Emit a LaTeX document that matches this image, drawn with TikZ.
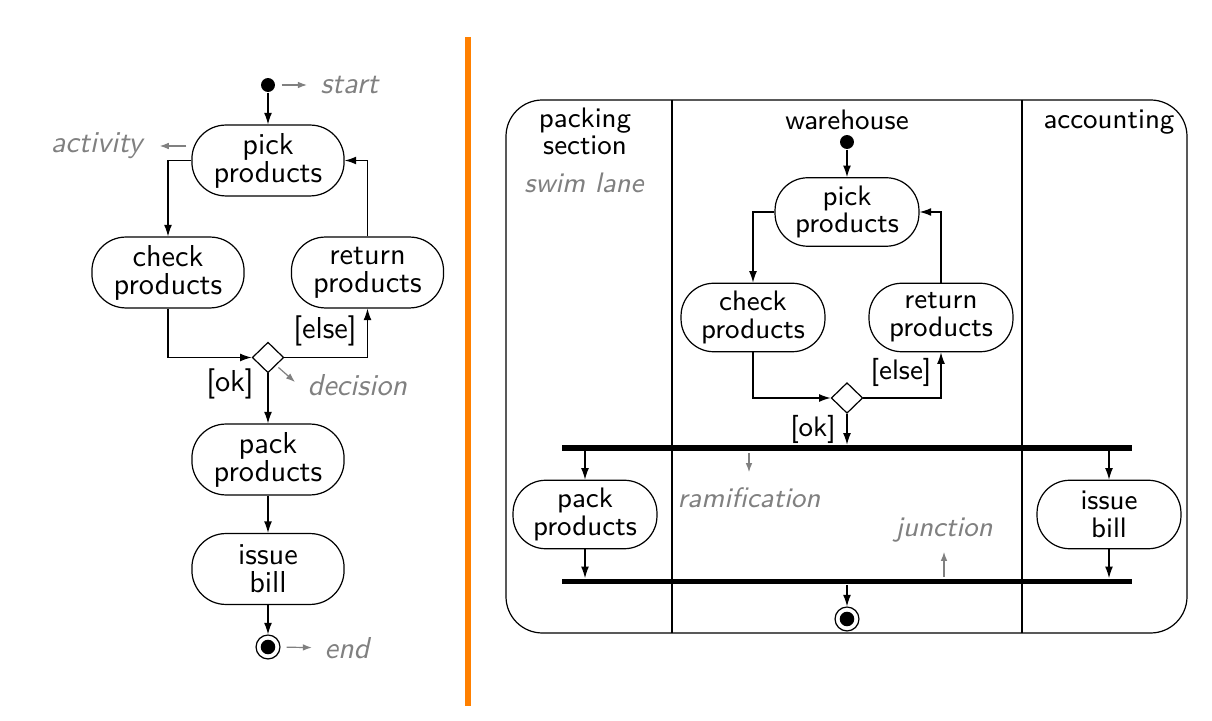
\documentclass[tikz,border=0pt]{standalone}
\usetikzlibrary{arrows.meta,shapes.geometric}
\definecolor{divider}{RGB}{255,128,0}
\begin{document}
\begin{tikzpicture}[x=0.33pt,y=-0.33pt,
	act/.style={draw,thin,rounded corners=11.2pt,minimum width=50.2pt,minimum height=23.4pt,inner sep=0pt,align=center,font=\sffamily\fontsize{10}{9.2}\selectfont},
	lact/.style={act,rounded corners=10.8pt,minimum width=47.5pt,minimum height=22.6pt,font=\sffamily\fontsize{9.3}{9.2}\selectfont},
	decide/.style={draw,thin,diamond,inner sep=0pt,minimum width=10.4pt,minimum height=10.1pt},
	initial/.style={circle,fill,inner sep=0pt,minimum size=4.6pt},
	final/.style={circle,draw,thin,inner sep=0pt,minimum size=7.9pt,path picture={\fill (path picture bounding box.center) circle (2.4pt);}},
	bar/.style={fill,inner sep=0pt,minimum width=188.1pt,minimum height=1.8pt},
	flow/.style={thin,-{Latex[length=3.8pt,width=2.6pt]}},
	note/.style={thin,gray,-{Latex[length=3pt,width=2.2pt]}},
	lbl/.style={inner sep=0pt,font=\sffamily\fontsize{10}{9.2}\selectfont},
	llbl/.style={inner sep=0pt,align=center,font=\sffamily\fontsize{9.3}{8.9}\selectfont},
	hint/.style={inner sep=0pt,gray,font=\sffamily\itshape\fontsize{10}{12}\selectfont},
	lhint/.style={inner sep=0pt,gray,font=\sffamily\itshape\fontsize{9.3}{11}\selectfont},
]
	\useasboundingbox (0,0) rectangle (1212,721);

	% plain activity diagram
	\node (init) [initial] at (268,85) {};
	\node (pick) [act] at (268,160.5) {pick\\products};
	\node (check) [act] at (168,272.5) {check\\products};
	\node (return) [act] at (367.5,272.5) {return\\products};
	\node (dec) [decide] at (268,357.5) {};
	\node (pack) [act] at (268,459.5) {pack\\products};
	\node (issue) [act] at (268,569) {issue\\bill};
	\node (fin) [final] at (268,647) {};

	\draw[flow] (init) -- (pick);
	\draw[flow] (pick.west) -| (check.north);
	\draw[flow] (return.north) |- (pick.east);
	\draw[flow] (check.south) |- (dec.west);
	\draw[flow] (dec.east) -| (return.south);
	\draw[flow] (dec) -- (pack);
	\draw[flow] (pack) -- (issue);
	\draw[flow] (issue) -- (fin);

	\node (elselbl) [lbl] at (325,331) {[else]};
	\node (oklbl) [lbl] at (230,383.5) {[ok]};

	\node (startlbl) [hint,anchor=west] at (320,85) {start};
	\draw[note,shorten <=2pt,shorten >=4.3pt] (init) -- (startlbl);
	\node (actlbl) [hint,anchor=east] at (143,146) {activity};
	\draw[note] ([xshift=-1.6pt]actlbl.east -| pick.west) -- ([xshift=5.5pt]actlbl.east);
	\node (declbl) [hint,anchor=west] at (307,385) {decision};
	\coordinate (dectip) at (295,382);
	\draw[note,shorten <=1pt] (dec.south east) -- (dectip);
	\node (finlbl) [hint,anchor=west] at (324,648) {end};
	\draw[note,shorten <=2pt,shorten >=4pt] (fin) -- (finlbl);

	\draw[line width=2.2pt,color=divider] (468,37) -- (468,706);

	% swim lanes
	\draw[thin,rounded corners=12pt] (506,100) rectangle (1187,633);
	\draw[thin] (672,100) -- (672,633) (1022,100) -- (1022,633);
	\node (packhd) [llbl] at (585,131) {packing\\section};
	\node (swimlbl) [lhint] at (584,183) {swim lane};
	\node (warehd) [llbl,anchor=base] at (847,130) {warehouse};
	\node (acchd) [llbl,anchor=base] at (1109,129) {accounting};

	\node (init2) [initial] at (847,142) {};
	\node (pick2) [lact] at (847,212) {pick\\products};
	\node (check2) [lact] at (753,317.5) {check\\products};
	\node (return2) [lact] at (941,317.5) {return\\products};
	\node (dec2) [decide] at (847,398) {};
	\node (fork) [bar] at (847,448) {};
	\node (pack2) [lact] at (585,514.5) {pack\\products};
	\node (issue2) [lact] at (1109,514.5) {issue\\bill};
	\node (join) [bar] at (847,581.5) {};
	\node (fin2) [final] at (847,619) {};

	\draw[flow] (init2) -- (pick2);
	\draw[flow] (pick2.west) -| (check2.north);
	\draw[flow] (return2.north) |- (pick2.east);
	\draw[flow] (check2.south) |- (dec2.west);
	\draw[flow] (dec2.east) -| (return2.south);
	\draw[flow] (dec2) -- (fork);
	\draw[flow] (fork.south -| pack2) -- (pack2);
	\draw[flow] (fork.south -| issue2) -- (issue2);
	\draw[flow] (pack2) -- (join.north -| pack2);
	\draw[flow] (issue2) -- (join.north -| issue2);
	\draw[flow] (join) -- (fin2);

	\node (else2) [llbl] at (901,372) {[else]};
	\node (ok2) [llbl] at (813,429) {[ok]};
	\node (ramlbl) [lhint] at (749,498) {ramification};
	\draw[note,shorten <=0.5pt,shorten >=5pt] (fork.south -| ramlbl.north) -- (ramlbl.north);
	\node (jnclbl) [lhint] at (944,530) {junction};
	\draw[note,shorten <=0.5pt,shorten >=3pt] (join.north -| jnclbl.south) -- (jnclbl.south);
\end{tikzpicture}
\end{document}
